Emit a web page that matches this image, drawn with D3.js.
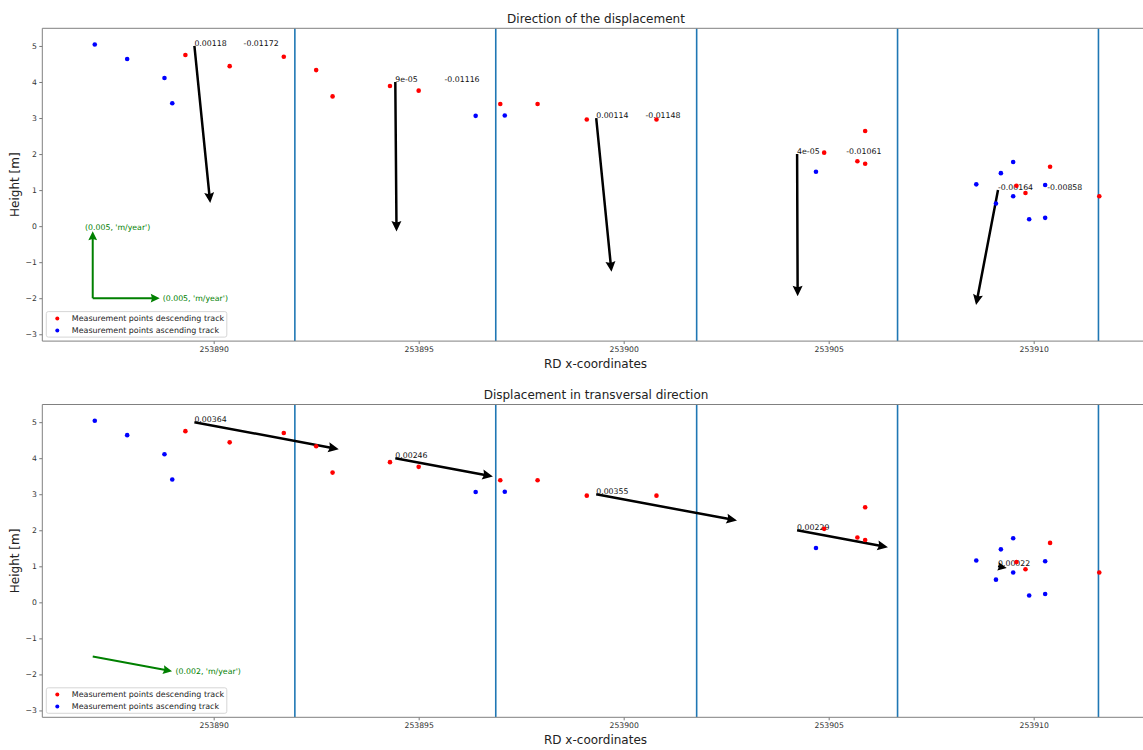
<!DOCTYPE html>
<html>
<head>
<meta charset="utf-8">
<script src="https://cdn.jsdelivr.net/npm/d3@7"></script>
<style>
  html, body { margin: 0; padding: 0; background: #fff; }
  svg { display: block; font-family: "DejaVu Sans", sans-serif; }
</style>
</head>
<body>
<svg id="chart" width="1143" height="750"></svg>
<script>
// ---------------- data ----------------
const ascX = [253887.10, 253887.89, 253888.80, 253888.99, 253896.39, 253897.10, 253904.69,
              253908.60, 253909.20, 253909.50, 253909.08, 253909.50, 253910.28, 253909.89, 253910.28];
const ascY = [5.04, 4.64, 4.11, 3.41, 3.06, 3.07, 1.51,
              1.16, 1.47, 1.78, 0.63, 0.83, 1.14, 0.19, 0.23];
const descX = [253889.31, 253890.39, 253891.71, 253892.50, 253892.90, 253894.30, 253895.00,
               253896.99, 253897.90, 253899.10, 253900.80, 253904.89, 253905.89, 253905.70,
               253905.89, 253910.40, 253909.58, 253909.80, 253911.60];
const descY = [4.75, 4.44, 4.70, 4.33, 3.60, 3.89, 3.76,
               3.39, 3.39, 2.96, 2.96, 2.04, 2.64, 1.80,
               1.73, 1.65, 1.12, 0.92, 0.83];
// segment boundaries (vertical lines)
const segmentLines = [253891.98, 253896.88, 253901.78, 253906.68, 253911.58];
// arrow origins (segment centres)
const arrowX = [253889.53, 253894.43, 253899.33, 253904.23, 253909.13];
const arrowY = [5, 4, 3, 2, 1];
// displacement components (m/year)
const horizLabels = ["0.00118", "9e-05", "0.00114", "4e-05", "-0.00164"];
const vertLabels  = ["-0.01172", "-0.01116", "-0.01148", "-0.01061", "-0.00858"];
const horizVals = horizLabels.map(Number);
const vertVals  = vertLabels.map(Number);
const transLabels = ["0.00364", "0.00246", "0.00355", "0.00229", "0.00022"];
const transVals = transLabels.map(Number);
// axis ticks
const xTicks = [253890, 253895, 253900, 253905, 253910];
const yTicks = [-3, -2, -1, 0, 1, 2, 3, 4, 5];
const xDomain = [253885.82, 253912.72];
const yDomain = [-3.19, 5.49];

// ---------------- layout ----------------
const svg = d3.select("#chart");
const W = 1143;
const plotLeft = 42.3, plotRight = 1145.2;
const panelH = 312.8;
const panels = [
  { top: 28.3, title: "Direction of the displacement", kind: "dir" },
  { top: 404.5, title: "Displacement in transversal direction", kind: "trans" }
];
const pxPerUnitDir = 13400;   // pixels per m/year (top panel)
const pxPerUnitTrans = 40350; // pixels per m/year (bottom panel)
const transAngle = Math.atan2(0.187, 1); // downwards tilt of transversal direction (pixel space)

function arrowPath(x0, y0, dx, dy, opts) {
  const L = Math.hypot(dx, dy);
  if (L === 0) return "";
  const ux = dx / L, uy = dy / L;
  const nx = -uy, ny = ux;
  const w = opts.shaft, hl = opts.headLen, ha = opts.headAxis, hw = opts.headHalf;
  let s = 1;
  if (L < hl) s = L / hl;
  const hL = hl * s, hA = ha * s, hW = hw * s, sw = w * Math.max(s, 0.6);
  const pt = (a, b) => [x0 + ux * a + nx * b, y0 + uy * a + ny * b];
  const pts = [
    pt(0, sw / 2), pt(L - hA, sw / 2), pt(L - hL, hW), pt(L, 0),
    pt(L - hL, -hW), pt(L - hA, -sw / 2), pt(0, -sw / 2)
  ];
  return "M" + pts.map(p => p[0].toFixed(2) + "," + p[1].toFixed(2)).join("L") + "Z";
}
const blackArrow = { shaft: 2.5, headLen: 10.5, headAxis: 9.3, headHalf: 5.0 };
const greenArrow = { shaft: 2.0, headLen: 9, headAxis: 8, headHalf: 4.4 };

panels.forEach(p => {
  const g = svg.append("g");
  const x = d3.scaleLinear().domain(xDomain).range([plotLeft, plotRight]);
  const y = d3.scaleLinear().domain(yDomain).range([p.top + panelH, p.top]);

  // clip
  const clipId = "clip-" + p.kind;
  svg.append("clipPath").attr("id", clipId).append("rect")
    .attr("x", plotLeft).attr("y", p.top).attr("width", plotRight - plotLeft).attr("height", panelH);
  const plot = g.append("g").attr("clip-path", `url(#${clipId})`);

  // segment lines
  plot.selectAll("line.seg").data(segmentLines).enter().append("line")
    .attr("x1", d => x(d)).attr("x2", d => x(d))
    .attr("y1", p.top).attr("y2", p.top + panelH)
    .attr("stroke", "#1f77b4").attr("stroke-width", 1.6);

  // arrows + labels
  arrowX.forEach((ax, i) => {
    const sx = x(ax), sy = y(arrowY[i]);
    let dx, dy;
    if (p.kind === "dir") {
      dx = horizVals[i] * pxPerUnitDir;
      dy = -vertVals[i] * pxPerUnitDir;
    } else {
      const L = transVals[i] * pxPerUnitTrans;
      dx = L * Math.cos(transAngle);
      dy = L * Math.sin(transAngle);
    }
    plot.append("path").attr("d", arrowPath(sx, sy, dx, dy, blackArrow)).attr("fill", "#000");
    if (p.kind === "dir") {
      plot.append("text").attr("x", sx).attr("y", sy).attr("font-size", "7.8px").attr("fill", "#111").text(horizLabels[i]);
      plot.append("text").attr("x", x(ax + 1.2)).attr("y", sy).attr("font-size", "7.8px").attr("fill", "#111").text(vertLabels[i]);
    } else {
      plot.append("text").attr("x", sx).attr("y", sy).attr("font-size", "7.8px").attr("fill", "#111").text(transLabels[i]);
    }
  });

  // scale key (green)
  const kx = x(253887.05);
  if (p.kind === "dir") {
    const ky = y(-2);
    const keyLen = 0.005 * pxPerUnitDir;
    plot.append("path").attr("d", arrowPath(kx, ky, 0, -keyLen, greenArrow)).attr("fill", "#008000");
    plot.append("path").attr("d", arrowPath(kx, ky, keyLen, 0, greenArrow)).attr("fill", "#008000");
    plot.append("text").attr("x", kx - 7.7).attr("y", ky - keyLen - 1).attr("font-size", "7.8px").attr("fill", "#008000").text("(0.005, 'm/year')");
    plot.append("text").attr("x", kx + keyLen + 3).attr("y", ky + 2.8).attr("font-size", "7.8px").attr("fill", "#008000").text("(0.005, 'm/year')");
  } else {
    const ky = y(-1.5);
    const keyLen = 0.002 * pxPerUnitTrans;
    const dx = keyLen * Math.cos(transAngle), dy = keyLen * Math.sin(transAngle);
    plot.append("path").attr("d", arrowPath(kx, ky, dx, dy, greenArrow)).attr("fill", "#008000");
    plot.append("text").attr("x", kx + dx + 3.5).attr("y", ky + dy + 3.2).attr("font-size", "7.8px").attr("fill", "#008000").text("(0.002, 'm/year')");
  }

  // points
  plot.selectAll("circle.desc").data(descX).enter().append("circle")
    .attr("cx", d => x(d)).attr("cy", (d, i) => y(descY[i])).attr("r", 2.3).attr("fill", "#ff0000");
  plot.selectAll("circle.asc").data(ascX).enter().append("circle")
    .attr("cx", d => x(d)).attr("cy", (d, i) => y(ascY[i])).attr("r", 2.3).attr("fill", "#0000ff");

  // legend
  const lg = g.append("g").attr("transform", `translate(${plotLeft + 4},${p.top + panelH - 29.5})`);
  lg.append("rect").attr("x", 0).attr("y", 0).attr("width", 180.5).attr("height", 25.5)
    .attr("rx", 2).attr("fill", "#fff").attr("fill-opacity", 0.85).attr("stroke", "#cccccc").attr("stroke-width", 0.8);
  [["Measurement points descending track", "#ff0000"], ["Measurement points ascending track", "#0000ff"]]
    .forEach((it, i) => {
      const cy = 6.8 + i * 12;
      lg.append("circle").attr("cx", 11).attr("cy", cy).attr("r", 2.0).attr("fill", it[1]);
      lg.append("text").attr("x", 25.5).attr("y", cy + 2.9).attr("font-size", "7.95px").attr("fill", "#222").text(it[0]);
    });

  // axes
  const xAxis = d3.axisBottom(x).tickValues(xTicks).tickFormat(d3.format("d")).tickSize(3).tickPadding(2);
  const yAxis = d3.axisLeft(y).tickValues(yTicks).tickFormat(d => d < 0 ? "\u2212" + Math.abs(d) : String(d)).tickSize(3).tickPadding(2.5);
  const gx = g.append("g").attr("transform", `translate(0,${p.top + panelH})`).call(xAxis);
  const gy = g.append("g").attr("transform", `translate(${plotLeft},0)`).call(yAxis);
  [gx, gy].forEach(ax => {
    ax.select(".domain").remove();
    ax.selectAll(".tick line").attr("stroke", "#555").attr("stroke-width", 0.8);
    ax.selectAll(".tick text").attr("font-size", "7.7px").attr("fill", "#333").attr("font-family", "DejaVu Sans");
  });
  // spines (left, top, bottom; right is beyond the image)
  g.append("line").attr("x1", plotLeft).attr("x2", plotLeft).attr("y1", p.top).attr("y2", p.top + panelH).attr("stroke", "#808080").attr("stroke-width", 1);
  g.append("line").attr("x1", plotLeft).attr("x2", W).attr("y1", p.top).attr("y2", p.top).attr("stroke", "#808080").attr("stroke-width", 1);
  g.append("line").attr("x1", plotLeft).attr("x2", W).attr("y1", p.top + panelH).attr("y2", p.top + panelH).attr("stroke", "#808080").attr("stroke-width", 1);

  // titles and labels
  g.append("text").attr("x", 596).attr("y", p.top - 5.5).attr("text-anchor", "middle")
    .attr("font-size", "12px").attr("fill", "#222").text(p.title);
  g.append("text").attr("x", 595.5).attr("y", p.top + panelH + 27).attr("text-anchor", "middle")
    .attr("font-size", "12px").attr("fill", "#222").text("RD x-coordinates");
  g.append("text").attr("transform", `translate(18.5,${p.top + panelH / 2}) rotate(-90)`).attr("text-anchor", "middle")
    .attr("font-size", "12px").attr("fill", "#222").text("Height [m]");
});
</script>
</body>
</html>
